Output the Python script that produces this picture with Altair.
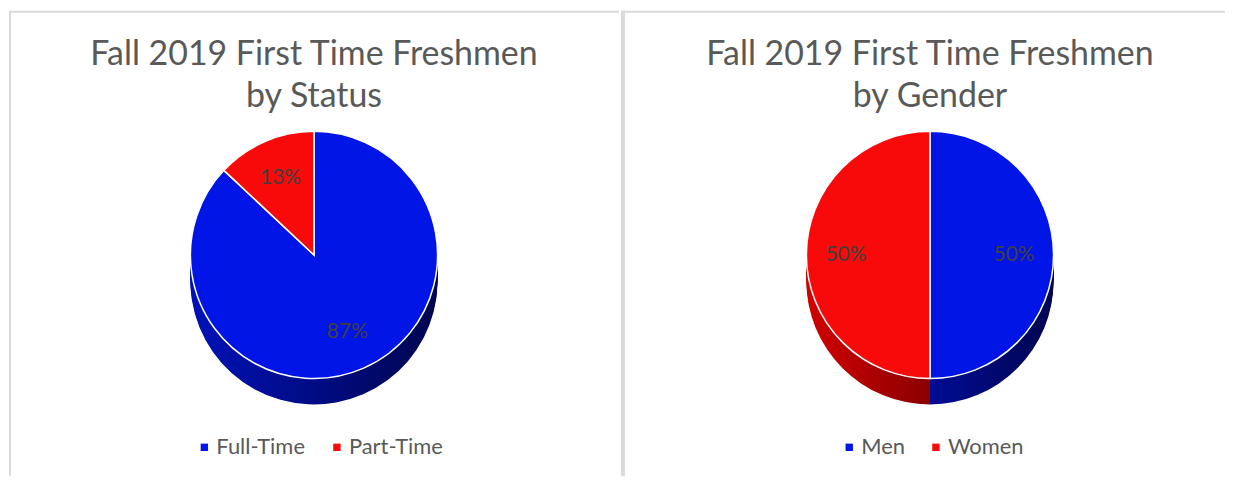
import altair as alt
import pandas as pd

# ---- data ----
status_cats = ["Full-Time", "Part-Time"]
status_vals = [0.87, 0.13]
gender_cats = ["Men", "Women"]
gender_vals = [0.50, 0.50]
title_status = ["Fall 2019 First Time Freshmen", "by Status"]
title_gender = ["Fall 2019 First Time Freshmen", "by Gender"]

BLUE = "#0015E6"
RED = "#F80A0A"
GRAY_TXT = "#595959"
BORDER = "#DADADA"
FONT = "Lato"

R = 124
CY = 245
DEPTH = 26
H = 467


def grad(c1, c2):
    return alt.Gradient(
        gradient="linear",
        stops=[alt.GradientStop(color=c1, offset=0), alt.GradientStop(color=c2, offset=1)],
        x1=0, x2=1, y1=0, y2=0,
    )


def panel(cats, vals, title, width, cx, legend_x, side_grads, left_rule_w, left_rule_x):
    df = pd.DataFrame({"category": cats, "value": vals, "idx": list(range(len(cats)))})
    total = float(sum(vals))
    base = alt.Chart(df).transform_stack(
        stack="value", groupby=[], as_=["t0", "t1"], sort=[alt.SortField("idx")]
    ).transform_calculate(
        mid="(datum.t0 + datum.t1) / 2",
        label="format(datum.value, '.0%')",
    )
    th = alt.Theta("t0:Q", scale=alt.Scale(domain=[0, total]))
    th2 = alt.Theta2("t1:Q")

    layers = []
    # 3-D side of the pie
    for c, g in zip(cats, side_grads):
        for d in range(DEPTH, 0, -2):
            layers.append(
                base.transform_filter(alt.datum.category == c)
                .mark_arc(radius=R, fill=g, strokeWidth=0)
                .encode(theta=th, theta2=th2, x=alt.value(cx), y=alt.value(CY + d))
            )
    # top face
    layers.append(
        base.mark_arc(radius=R, stroke="white", strokeWidth=1.5).encode(
            theta=th,
            theta2=th2,
            x=alt.value(cx),
            y=alt.value(CY),
            color=alt.Color(
                "category:N",
                scale=alt.Scale(domain=cats, range=[BLUE, RED]),
                legend=alt.Legend(
                    orient="none",
                    legendX=legend_x,
                    legendY=427,
                    direction="horizontal",
                    title=None,
                    symbolType="square",
                    symbolSize=55,
                    symbolStrokeWidth=0,
                    labelFont=FONT,
                    labelFontSize=22,
                    labelColor=GRAY_TXT,
                    labelOffset=1,
                    columnPadding=20,
                    padding=0,
                ),
            ),
        )
    )
    # percentage labels
    layers.append(
        base.mark_text(radius=R * 0.68, font=FONT, fontSize=21, color="#404040").encode(
            theta=alt.Theta("mid:Q", scale=alt.Scale(domain=[0, total])),
            x=alt.value(cx),
            y=alt.value(CY),
            text="label:N",
        )
    )
    # title
    one = alt.Chart(pd.DataFrame({"k": [0]}))
    layers.append(
        one.mark_text(
            text=title, font=FONT, fontSize=34, color=GRAY_TXT,
            align="center", baseline="alphabetic", lineHeight=43,
        ).encode(x=alt.value(cx), y=alt.value(54))
    )
    # frame lines
    layers.append(
        one.mark_rule(color=BORDER, strokeWidth=2).encode(
            x=alt.value(0), x2=alt.value(width), y=alt.value(1)
        )
    )
    layers.append(
        one.mark_rule(color=BORDER, strokeWidth=left_rule_w).encode(
            x=alt.value(left_rule_x), y=alt.value(0), y2=alt.value(H)
        )
    )
    return alt.layer(*layers).properties(width=width, height=H)


left = panel(
    status_cats, status_vals, title_status, 612, 306, 185,
    [grad("#0012B8", "#00054F"), grad("#D00000", "#8B0000")],
    2, 1,
)
right = panel(
    gender_cats, gender_vals, title_gender, 606, 310, 218,
    [grad("#000C95", "#00054F"), grad("#D20000", "#8B0000")],
    4, 2,
)

chart = (
    alt.hconcat(left, right, spacing=0)
    .resolve_scale(color="independent", theta="independent")
    .properties(padding=0, background="white")
    .configure_view(stroke=None)
)

chart.save("out.html", embed_options={"renderer": "svg", "actions": False})
